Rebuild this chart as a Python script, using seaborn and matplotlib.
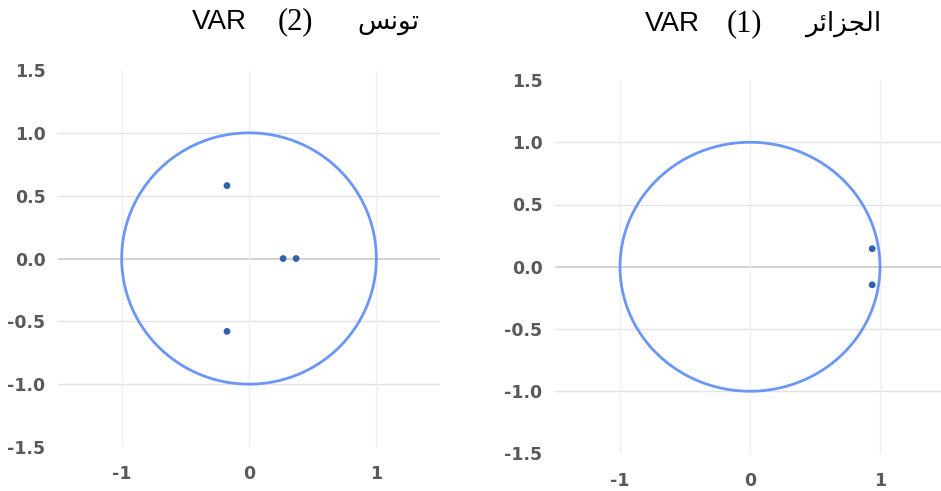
import numpy as np
import pandas as pd
import matplotlib
matplotlib.use("Agg")
import matplotlib.pyplot as plt
import seaborn as sns

# Inverse roots of the characteristic polynomial for each VAR model
tun_real = [-0.173, -0.173, 0.268, 0.370]
tun_imag = [0.580, -0.580, 0.0, 0.0]
alg_real = [0.940, 0.940]
alg_imag = [0.145, -0.145]

y_ticks = [-1.5, -1.0, -0.5, 0.0, 0.5, 1.0, 1.5]
x_ticks = [-1, 0, 1]
y_labels = ["-1.5", "-1.0", "-0.5", "0.0", "0.5", "1.0", "1.5"]
x_labels = ["-1", "0", "1"]

# Arabic country names, pre-shaped (presentation forms, visual order)
name_tun = "\uFEB2\uFEE7\uFEEE\uFE97"              # تونس
name_alg = "\uFEAE\uFE8B\uFE8D\uFEB0\uFEA0\uFEDF\uFE8D"  # الجزائر

sns.set_style("white")
plt.rcParams["font.family"] = ["DejaVu Sans"]

circle_color = "#6A97F7"
dot_color = "#2F62B3"
tick_color = "#595959"

theta = np.linspace(0, 2 * np.pi, 400)
unit = pd.DataFrame({"re": np.cos(theta), "im": np.sin(theta)})

fig = plt.figure(figsize=(9.41, 4.91), dpi=100)
ax_l = fig.add_axes([58 / 941, (491 - 447) / 491, 382 / 941, 377 / 491])
ax_r = fig.add_axes([555 / 941, (491 - 453.5) / 491, 390 / 941, 373.5 / 491])


def draw_panel(ax, re, im):
    for yv in [-1.0, -0.5, 0.5, 1.0]:
        ax.axhline(yv, color="#e3e3e3", lw=1.0, zorder=0)
    ax.axhline(0.0, color="#cfcfcf", lw=1.3, zorder=0)
    for xv in x_ticks:
        ax.axvline(xv, color="#efefef", lw=1.0, zorder=0)
    sns.lineplot(data=unit, x="re", y="im", sort=False, estimator=None,
                 color=circle_color, lw=2.0, ax=ax, zorder=2)
    pts = pd.DataFrame({"re": re, "im": im})
    sns.scatterplot(data=pts, x="re", y="im", color=dot_color, s=24,
                    edgecolor="none", ax=ax, zorder=3)
    ax.set_xlim(-1.5, 1.5)
    ax.set_ylim(-1.5, 1.5)
    ax.set_xticks(x_ticks)
    ax.set_xticklabels(x_labels)
    ax.set_yticks(y_ticks)
    ax.set_yticklabels(y_labels)
    ax.tick_params(length=0, labelsize=12.5, colors=tick_color)
    ax.tick_params(axis="x", pad=13)
    ax.tick_params(axis="y", pad=9)
    for lab in ax.get_xticklabels() + ax.get_yticklabels():
        lab.set_fontweight("semibold")
    ax.set_xlabel("")
    ax.set_ylabel("")
    for sp in ax.spines.values():
        sp.set_visible(False)
    ax.set_facecolor("none")


draw_panel(ax_l, tun_real, tun_imag)
draw_panel(ax_r, alg_real, alg_imag)

# Titles
def title(x_var, x_num, x_name, y, num, name):
    yf = 1 - y / 491
    fig.text(x_var / 941, yf, "VAR", family="Liberation Sans", fontsize=20,
             ha="left", va="center", color="black")
    fig.text(x_num / 941, yf, num, family="Liberation Serif", fontsize=22,
             ha="left", va="center", color="black")
    fig.text(x_name / 941, yf, name, family="DejaVu Sans", fontsize=19,
             ha="left", va="center", color="black")


title(192, 278, 357, 22, "(2)", name_tun)
title(645, 727, 805, 24, "(1)", name_alg)

fig.savefig("out.png", dpi=100, facecolor="white")
